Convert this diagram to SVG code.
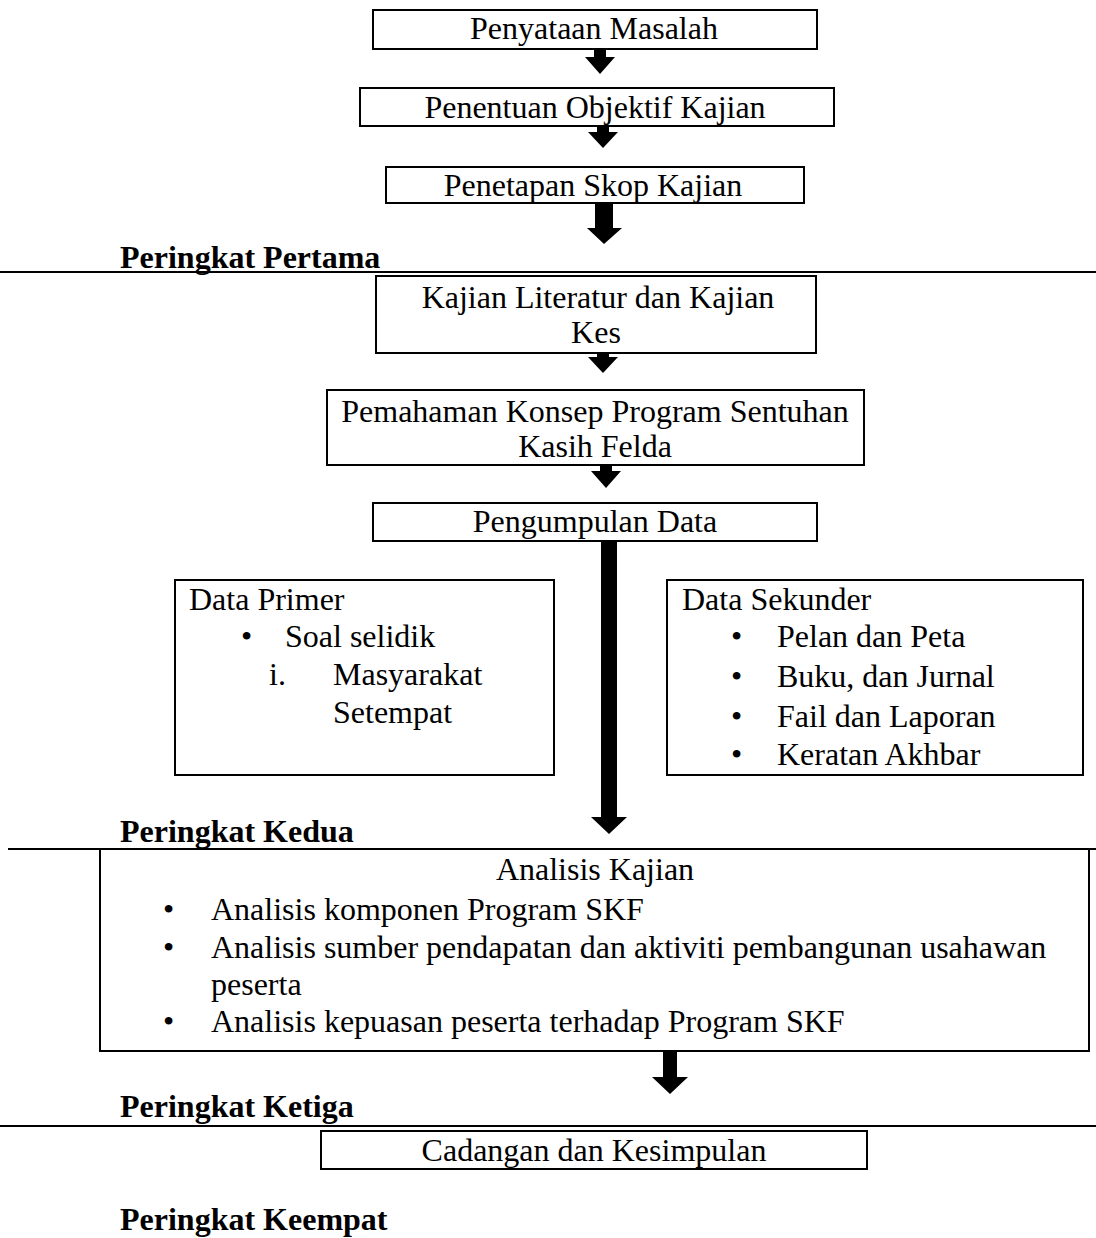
<svg xmlns="http://www.w3.org/2000/svg" width="1096" height="1238" viewBox="0 0 1096 1238">
<style>
.box{fill:#fff;stroke:#000;stroke-width:2}
.t{font-family:"Liberation Serif","Times New Roman",serif;font-size:32px;fill:#000}
.c{text-anchor:middle}
.b{font-weight:bold}
.sep{stroke:#000;stroke-width:2}
.arr{fill:#000}
</style>
<rect width="1096" height="1238" fill="#fff"/>
<g id="separators">
<line class="sep" x1="0" y1="272" x2="1096" y2="272"/>
<line class="sep" x1="8" y1="849" x2="1096" y2="849"/>
<line class="sep" x1="0" y1="1126" x2="1096" y2="1126"/>
</g>
<g id="labels">
<text class="t b" x="120" y="268">Peringkat Pertama</text>
<text class="t b" x="120" y="842">Peringkat Kedua</text>
<text class="t b" x="120" y="1117">Peringkat Ketiga</text>
<text class="t b" x="120" y="1230">Peringkat Keempat</text>
</g>
<g id="connectors">
<polygon class="arr" points="594,49 606,49 606,57 615,57 600,74 585,57 594,57"/>
<polygon class="arr" points="597,126 609,126 609,132 618,132 603,148 588,132 597,132"/>
<polygon class="arr" points="595,203 613,203 613,228 622,228 604,244 587,228 595,228"/>
<polygon class="arr" points="597,353 609,353 609,357 618,357 603,373 588,357 597,357"/>
<polygon class="arr" points="600,465 612,465 612,471 621,471 606,488 591,471 600,471"/>
<polygon class="arr" points="601,541 617,541 617,817 627,817 609,834 591,817 601,817"/>
<polygon class="arr" points="663,1051 677,1051 677,1077 688,1077 670,1094 652,1077 663,1077"/>
</g>
<g id="n1">
<rect class="box" x="373" y="10" width="444" height="39"/>
<text class="t c" x="594" y="39">Penyataan Masalah</text>
</g>
<g id="n2">
<rect class="box" x="360" y="88" width="474" height="38"/>
<text class="t c" x="595" y="118">Penentuan Objektif Kajian</text>
</g>
<g id="n3">
<rect class="box" x="386" y="167" width="418" height="36"/>
<text class="t c" x="593" y="196">Penetapan Skop Kajian</text>
</g>
<g id="n4">
<rect class="box" x="376" y="276" width="440" height="77"/>
<text class="t c" x="598" y="308">Kajian Literatur dan Kajian</text>
<text class="t c" x="596" y="343">Kes</text>
</g>
<g id="n5">
<rect class="box" x="327" y="390" width="537" height="75"/>
<text class="t c" x="595" y="422">Pemahaman Konsep Program Sentuhan</text>
<text class="t c" x="595" y="457">Kasih Felda</text>
</g>
<g id="n6">
<rect class="box" x="373" y="503" width="444" height="38"/>
<text class="t c" x="595" y="532">Pengumpulan Data</text>
</g>
<g id="n7">
<rect class="box" x="175" y="580" width="379" height="195"/>
<text class="t" x="189" y="610">Data Primer</text>
<text class="t" x="241" y="647">•</text>
<text class="t" x="285" y="647">Soal selidik</text>
<text class="t" x="269" y="685">i.</text>
<text class="t" x="333" y="685">Masyarakat</text>
<text class="t" x="333" y="723">Setempat</text>
</g>
<g id="n8">
<rect class="box" x="667" y="580" width="416" height="195"/>
<text class="t" x="682" y="610">Data Sekunder</text>
<text class="t" x="731" y="647">•</text>
<text class="t" x="777" y="647">Pelan dan Peta</text>
<text class="t" x="731" y="687">•</text>
<text class="t" x="777" y="687">Buku, dan Jurnal</text>
<text class="t" x="731" y="727">•</text>
<text class="t" x="777" y="727">Fail dan Laporan</text>
<text class="t" x="731" y="765">•</text>
<text class="t" x="777" y="765">Keratan Akhbar</text>
</g>
<g id="n9">
<rect class="box" x="100" y="849" width="989" height="202"/>
<text class="t c" x="595" y="880">Analisis Kajian</text>
<text class="t" x="163" y="920">•</text>
<text class="t" x="211" y="920">Analisis komponen Program SKF</text>
<text class="t" x="163" y="958">•</text>
<text class="t" x="211" y="958">Analisis sumber pendapatan dan aktiviti pembangunan usahawan</text>
<text class="t" x="211" y="995">peserta</text>
<text class="t" x="163" y="1032">•</text>
<text class="t" x="211" y="1032">Analisis kepuasan peserta terhadap Program SKF</text>
</g>
<g id="n10">
<rect class="box" x="321" y="1131" width="546" height="38"/>
<text class="t c" x="594" y="1161">Cadangan dan Kesimpulan</text>
</g>
</svg>
